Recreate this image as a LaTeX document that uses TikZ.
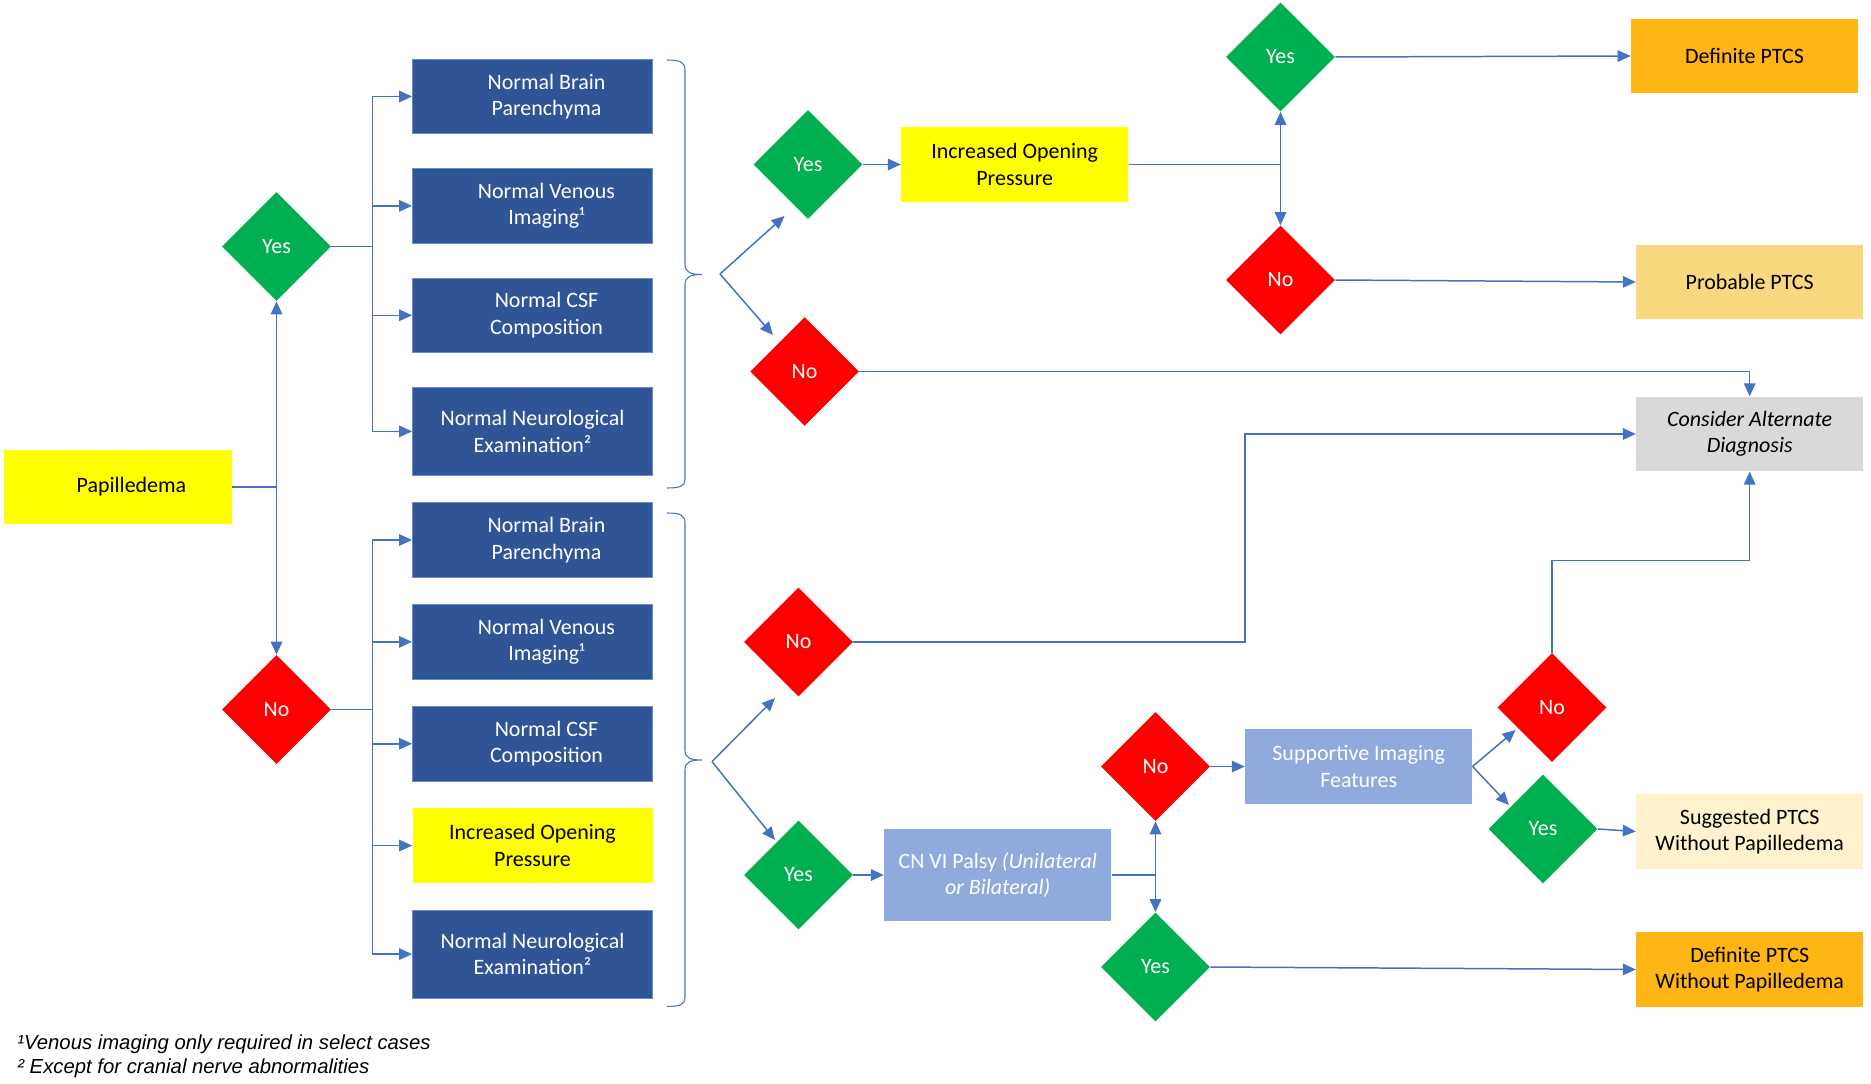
\documentclass[tikz,border=0pt]{standalone}
\usepackage{fontspec}
\setmainfont{Carlito}
\newfontfamily\notesans{Liberation Sans}
\usepackage{xcolor}
\usepackage{tikz}
\usetikzlibrary{arrows.meta,positioning,calc,shapes.geometric}
\definecolor{ptdark}{HTML}{2F5597}
\definecolor{ptedge}{HTML}{6A8CCB}
\definecolor{ptgreen}{HTML}{00B050}
\definecolor{ptred}{HTML}{FF0000}
\definecolor{ptyellow}{HTML}{FFFF00}
\definecolor{ptgold}{HTML}{FFB514}
\definecolor{ptlightgold}{HTML}{F9D87F}
\definecolor{ptcream}{HTML}{FFF2CC}
\definecolor{ptgrey}{HTML}{D9D9D9}
\definecolor{ptsoft}{HTML}{8FAADC}
\definecolor{ptline}{HTML}{4472C4}
\newcommand{\ptfont}{\fontsize{12.5}{15}\selectfont}
\newcommand{\notefont}{\notesans\itshape\fontsize{11.55}{13.4}\selectfont}
\newcommand{\nudge}{\hspace*{5.6mm}}

\begin{document}
\begin{tikzpicture}[
  x=0.2mm, y=-0.2mm,
  node distance=6.8mm and 7.6mm,
  box/.style={rectangle,minimum width=48mm,minimum height=14.9mm,align=center,inner sep=2pt,font=\ptfont},
  darkbox/.style={box,fill=ptdark,draw=ptedge,line width=0.5pt,text=white},
  result/.style={box,minimum width=45.4mm,minimum height=14.9mm},
  yellowbox/.style={result,fill=ptyellow},
  goldbox/.style={result,fill=ptgold},
  palebox/.style={result,fill=ptlightgold},
  creambox/.style={result,fill=ptcream},
  greybox/.style={result,fill=ptgrey},
  softbox/.style={result,fill=ptsoft,text=white},
  decide/.style={diamond,aspect=1,minimum width=21.8mm,minimum height=21.8mm,inner sep=0pt,text=white,font=\ptfont},
  yesdec/.style={decide,fill=ptgreen},
  nodec/.style={decide,fill=ptred},
  arrow/.style={-{Triangle[length=2.6mm,width=2.3mm]},line width=0.85pt,color=ptline},
  link/.style={line width=0.85pt,color=ptline},
  bracket/.style={line width=0.6pt,color=ptline},
  foot/.style={font=\notefont,inner sep=0pt}
]
  \useasboundingbox (0,0) rectangle (1871,1084);

  \node[yellowbox] (pap) at (118,487) {\hspace*{5.4mm}Papilledema};
  \node[yesdec] (yesA) at (276.5,246.5) {Yes};
  \node[nodec] (noA) at (276.5,709.5) {No};

  \node[darkbox] (brainA) at (532.5,96.5) {\nudge Normal Brain\\\nudge Parenchyma};
  \node[darkbox,below=of brainA] (venA) {\nudge Normal Venous\\\nudge Imaging¹};
  \node[darkbox,below=of venA] (csfA) {\nudge Normal CSF\\\nudge Composition};
  \node[darkbox,below=of csfA,minimum height=17.6mm] (neuroA) {Normal Neurological\\Examination²};

  \node[darkbox] (brainB) at (532.5,540) {\nudge Normal Brain\\\nudge Parenchyma};
  \node[darkbox,below=5.3mm of brainB] (venB) {\nudge Normal Venous\\\nudge Imaging¹};
  \node[darkbox,below=5.3mm of venB] (csfB) {\nudge Normal CSF\\\nudge Composition};
  \node[box,fill=ptyellow,below=5.3mm of csfB] (iopB) {Increased Opening\\Pressure};
  \node[darkbox,below=5.3mm of iopB,minimum height=17.6mm] (neuroB) {Normal Neurological\\Examination²};

  \node[yesdec] (yesB) at (808,164.5) {Yes};
  \node[yellowbox,right=of yesB] (iopA) {Increased Opening\\Pressure};
  \node[nodec] (noB) at (804.6,371.5) {No};
  \node[yesdec] (yesC) at (1280.5,57) {Yes};
  \node[nodec] (noC) at (1280.5,280) {No};
  \node[goldbox] (defA) at (1744.5,56) {Definite PTCS};
  \node[palebox] (probA) at (1749.7,282) {Probable PTCS};
  \node[greybox,font=\ptfont\itshape] (cad) at (1749.7,434) {Consider Alternate\\Diagnosis};

  \node[nodec] (noD) at (798.5,642) {No};
  \node[yesdec] (yesD) at (798.5,875) {Yes};
  \node[softbox,right=6.1mm of yesD,minimum height=18.4mm] (palsy) {CN VI Palsy \textit{(Unilateral}\\\textit{or Bilateral)}};
  \node[nodec] (noE) at (1155.5,766.5) {No};
  \node[yesdec] (yesE) at (1155.5,967) {Yes};
  \node[softbox,right=6.9mm of noE] (imaging) {Supportive Imaging\\Features};
  \node[nodec] (noF) at (1552,707.5) {No};
  \node[yesdec] (yesF) at (1543,829) {Yes};
  \node[creambox] (sugg) at (1749.7,831.5) {Suggested PTCS\\Without Papilledema};
  \node[goldbox] (defB) at (1749.7,969.5) {Definite PTCS\\Without Papilledema};

  \node[foot,anchor=base west] (noteA) at (17,1049.5) {¹Venous imaging only required in select cases};
  \node[foot,anchor=base west] (noteB) at (17,1073) {² Except for cranial nerve abnormalities};

  \coordinate (papjoin) at (pap -| yesA);
  \draw[link] (pap) -- (papjoin);
  \draw[arrow] (papjoin) -- (yesA);
  \draw[arrow] (papjoin) -- (noA);

  \coordinate (spineA) at ($(yesA.east)+(41,0)$);
  \draw[arrow] (yesA.east) -- (spineA) |- (brainA.west);
  \draw[arrow] (spineA) |- (venA.west);
  \draw[arrow] (spineA) |- (csfA.west);
  \draw[arrow] (spineA) |- (neuroA.west);

  \coordinate (spineB) at ($(noA.east)+(41,0)$);
  \draw[arrow] (noA.east) -- (spineB) |- (brainB.west);
  \draw[arrow] (spineB) |- (venB.west);
  \draw[arrow] (spineB) |- (csfB.west);
  \draw[arrow] (spineB) |- (iopB.west);
  \draw[arrow] (spineB) |- (neuroB.west);

  \draw[bracket] (667,60) .. controls (680,60) and (685,62) .. (685,70) -- (685,264) .. controls (685,272) and (690,274.5) .. (702,274.5) .. controls (690,274.5) and (685,277) .. (685,285) -- (685,480) .. controls (685,486) and (680,488) .. (667,488);
  \draw[bracket] (667,513) .. controls (680,513) and (685,515) .. (685,523) -- (685,750) .. controls (685,758) and (690,760) .. (702,760) .. controls (690,760) and (685,762) .. (685,770) -- (685,998) .. controls (685,1004) and (680,1006.5) .. (667,1006.5);

  \coordinate (forkA) at (720,274);
  \draw[arrow] (forkA) -- ($(yesB)+(-23.5,51.5)$);
  \draw[arrow] (forkA) -- ($(noB)+(-31.6,-36.5)$);
  \draw[arrow] (yesB.east) -- (iopA.west);
  \coordinate (iopjoin) at (iopA.east -| yesC);
  \draw[link] (iopA.east) -- (iopjoin);
  \draw[arrow] (iopjoin) -- (yesC.south);
  \draw[arrow] (iopjoin) -- (noC.north);
  \draw[arrow] (yesC.east) -- (defA.west);
  \draw[arrow] (noC.east) -- (probA.west);
  \draw[arrow] (noB.east) -| (cad.north);

  \coordinate (forkB) at (712,761.6);
  \draw[arrow] (forkB) -- ($(noD)+(-23.5,56)$);
  \draw[arrow] (forkB) -- ($(yesD)+(-23.5,-35)$);
  \draw[arrow] (noD.east) -- ++(391.6,0) |- (cad.west);
  \draw[arrow] (yesD.east) -- (palsy.west);
  \coordinate (palsyjoin) at (palsy.east -| noE);
  \draw[link] (palsy.east) -- (palsyjoin);
  \draw[arrow] (palsyjoin) -- (noE.south);
  \draw[arrow] (palsyjoin) -- (yesE.north);
  \draw[arrow] (noE.east) -- (imaging.west);
  \draw[arrow] (imaging.east) -- ($(noF)+(-36.4,22.5)$);
  \draw[arrow] (imaging.east) -- ($(yesF)+(-34,-24)$);
  \draw[arrow] (noF.north) -- ++(0,-92) -| (cad.south);
  \draw[arrow] (yesF.east) -- (sugg.west);
  \draw[arrow] (yesE.east) -- (defB.west);
\end{tikzpicture}
\end{document}
